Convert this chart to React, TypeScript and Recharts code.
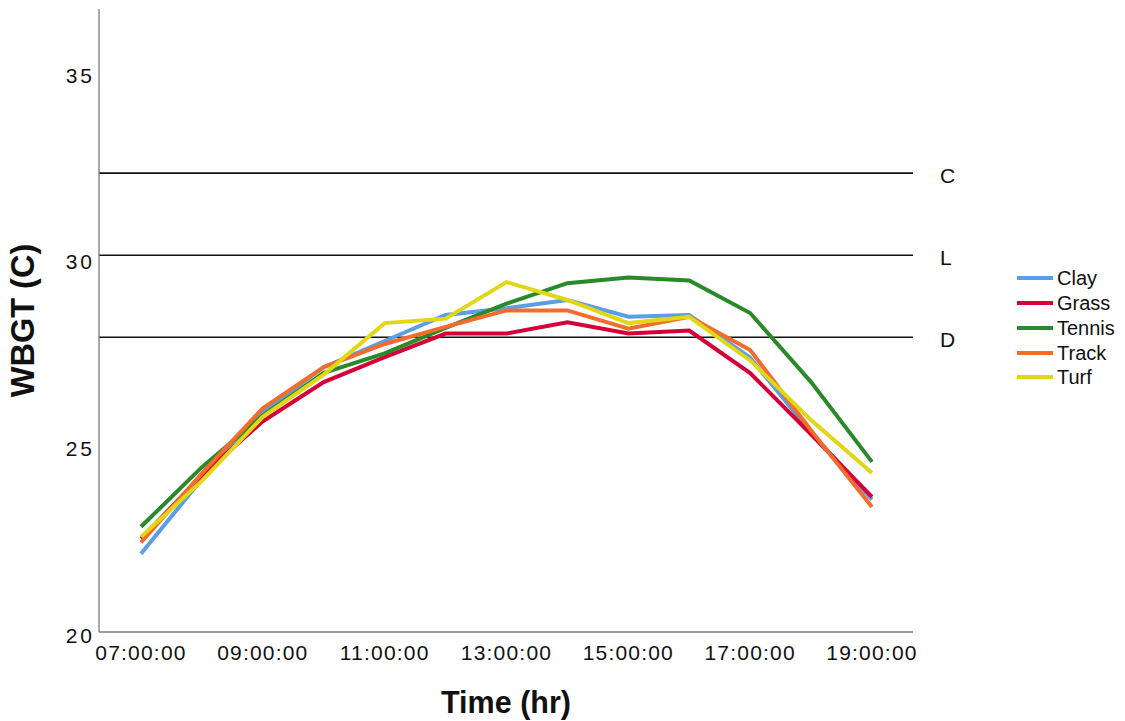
import React from 'react';
import { LineChart, Line, XAxis, YAxis, ReferenceLine, Label } from 'recharts';

// Hourly readings, 07:00 to 19:00
const hours = [
  '07:00:00', '08:00:00', '09:00:00', '10:00:00', '11:00:00', '12:00:00', '13:00:00',
  '14:00:00', '15:00:00', '16:00:00', '17:00:00', '18:00:00', '19:00:00',
];

const clay = [22.1, 24.1, 25.9, 27.1, 27.8, 28.5, 28.68, 28.9, 28.45, 28.5, 27.35, 25.35, 23.55];
const grass = [22.5, 24.2, 25.65, 26.7, 27.37, 28.0, 28.0, 28.3, 28.0, 28.08, 26.94, 25.3, 23.62];
const tennis = [22.82, 24.42, 25.8, 26.95, 27.47, 28.15, 28.8, 29.35, 29.5, 29.42, 28.55, 26.7, 24.56];
const track = [22.4, 24.25, 26.0, 27.1, 27.72, 28.18, 28.62, 28.62, 28.13, 28.45, 27.56, 25.4, 23.35];
const turf = [22.55, 24.05, 25.77, 26.9, 28.28, 28.4, 29.38, 28.9, 28.28, 28.45, 27.28, 25.68, 24.26];

const seriesNames = ['Clay', 'Grass', 'Tennis', 'Track', 'Turf'];
const seriesValues = [clay, grass, tennis, track, turf];
const seriesColors = ['#5c9de6', '#d50037', '#2a8a2a', '#f36c2b', '#e2d716'];

// WBGT threshold lines
const thresholdNames = ['C', 'L', 'D'];
const thresholdValues = [32.3, 30.1, 27.9];

const yTicks = [20, 25, 30, 35];
const xTicks = ['07:00:00', '09:00:00', '11:00:00', '13:00:00', '15:00:00', '17:00:00', '19:00:00'];

const data = hours.map((h, i) => {
  const row: Record<string, string | number> = { time: h };
  seriesNames.forEach((name, s) => {
    row[name] = seriesValues[s][i];
  });
  return row;
});

const FONT = '"Liberation Sans", Arial, Helvetica, sans-serif';

const YTick = (props: any) => {
  const { x, y, payload } = props;
  return (
    <text x={x} y={y} dy={10.5} textAnchor="end" fontSize={21} letterSpacing={3} fill="#111" fontFamily={FONT}>
      {payload.value}
    </text>
  );
};

const XTick = (props: any) => {
  const { x, y, payload } = props;
  return (
    <text x={x} y={y} dy={20} textAnchor="middle" fontSize={21} letterSpacing={1.2} fill="#111" fontFamily={FONT}>
      {payload.value}
    </text>
  );
};

export default function App() {
  return (
    <div style={{ position: 'absolute', left: 0, top: 0, width: 1125, height: 721, background: '#fff', fontFamily: FONT }}>
      <LineChart
        width={1125}
        height={721}
        data={data}
        margin={{ top: 9, right: 212, bottom: 59, left: 0 }}
      >
        <XAxis
          dataKey="time"
          type="category"
          ticks={xTicks}
          interval={0}
          padding={{ left: 42, right: 41 }}
          height={30}
          tickLine={false}
          tickSize={6}
          tickMargin={2}
          axisLine={{ stroke: '#7a7a7a', strokeWidth: 1.3 }}
          tick={<XTick />}
        >
          <Label
            value="Time (hr)"
            position="bottom"
            offset={29}
            style={{ fontSize: 30.5, fontWeight: 700, fill: '#111', fontFamily: FONT }}
          />
        </XAxis>
        <YAxis
          type="number"
          domain={[20, 36.7]}
          ticks={yTicks}
          width={99}
          tickLine={false}
          tickSize={4}
          tickMargin={0}
          axisLine={{ stroke: '#7a7a7a', strokeWidth: 1.3 }}
          tick={<YTick />}
          allowDataOverflow
        >
          <Label
            value="WBGT (C)"
            angle={-90}
            position="insideLeft"
            offset={22}
            style={{ fontSize: 32.5, fontWeight: 700, fill: '#111', fontFamily: FONT, textAnchor: 'middle' }}
          />
        </YAxis>
        {thresholdValues.map((v, i) => (
          <ReferenceLine
            key={thresholdNames[i]}
            y={v}
            stroke="#111"
            strokeWidth={1.6}
            label={{
              value: thresholdNames[i],
              position: 'right',
              offset: 27,
              fill: '#111',
              fontSize: 21,
              fontFamily: FONT,
              dy: 2,
            }}
          />
        ))}
        {seriesNames.map((name, s) => (
          <Line
            key={name}
            type="linear"
            dataKey={name}
            stroke={seriesColors[s]}
            strokeWidth={4}
            dot={false}
            activeDot={false}
            isAnimationActive={false}
          />
        ))}
      </LineChart>
      <div style={{ position: 'absolute', left: 1017, top: 266 }}>
        {seriesNames.map((name, s) => (
          <div key={name} style={{ display: 'flex', alignItems: 'center', height: 24.75 }}>
            <span style={{ display: 'inline-block', width: 36, height: 4, background: seriesColors[s] }} />
            <span style={{ marginLeft: 4, fontSize: 20, color: '#111', lineHeight: '24px' }}>{name}</span>
          </div>
        ))}
      </div>
    </div>
  );
}
